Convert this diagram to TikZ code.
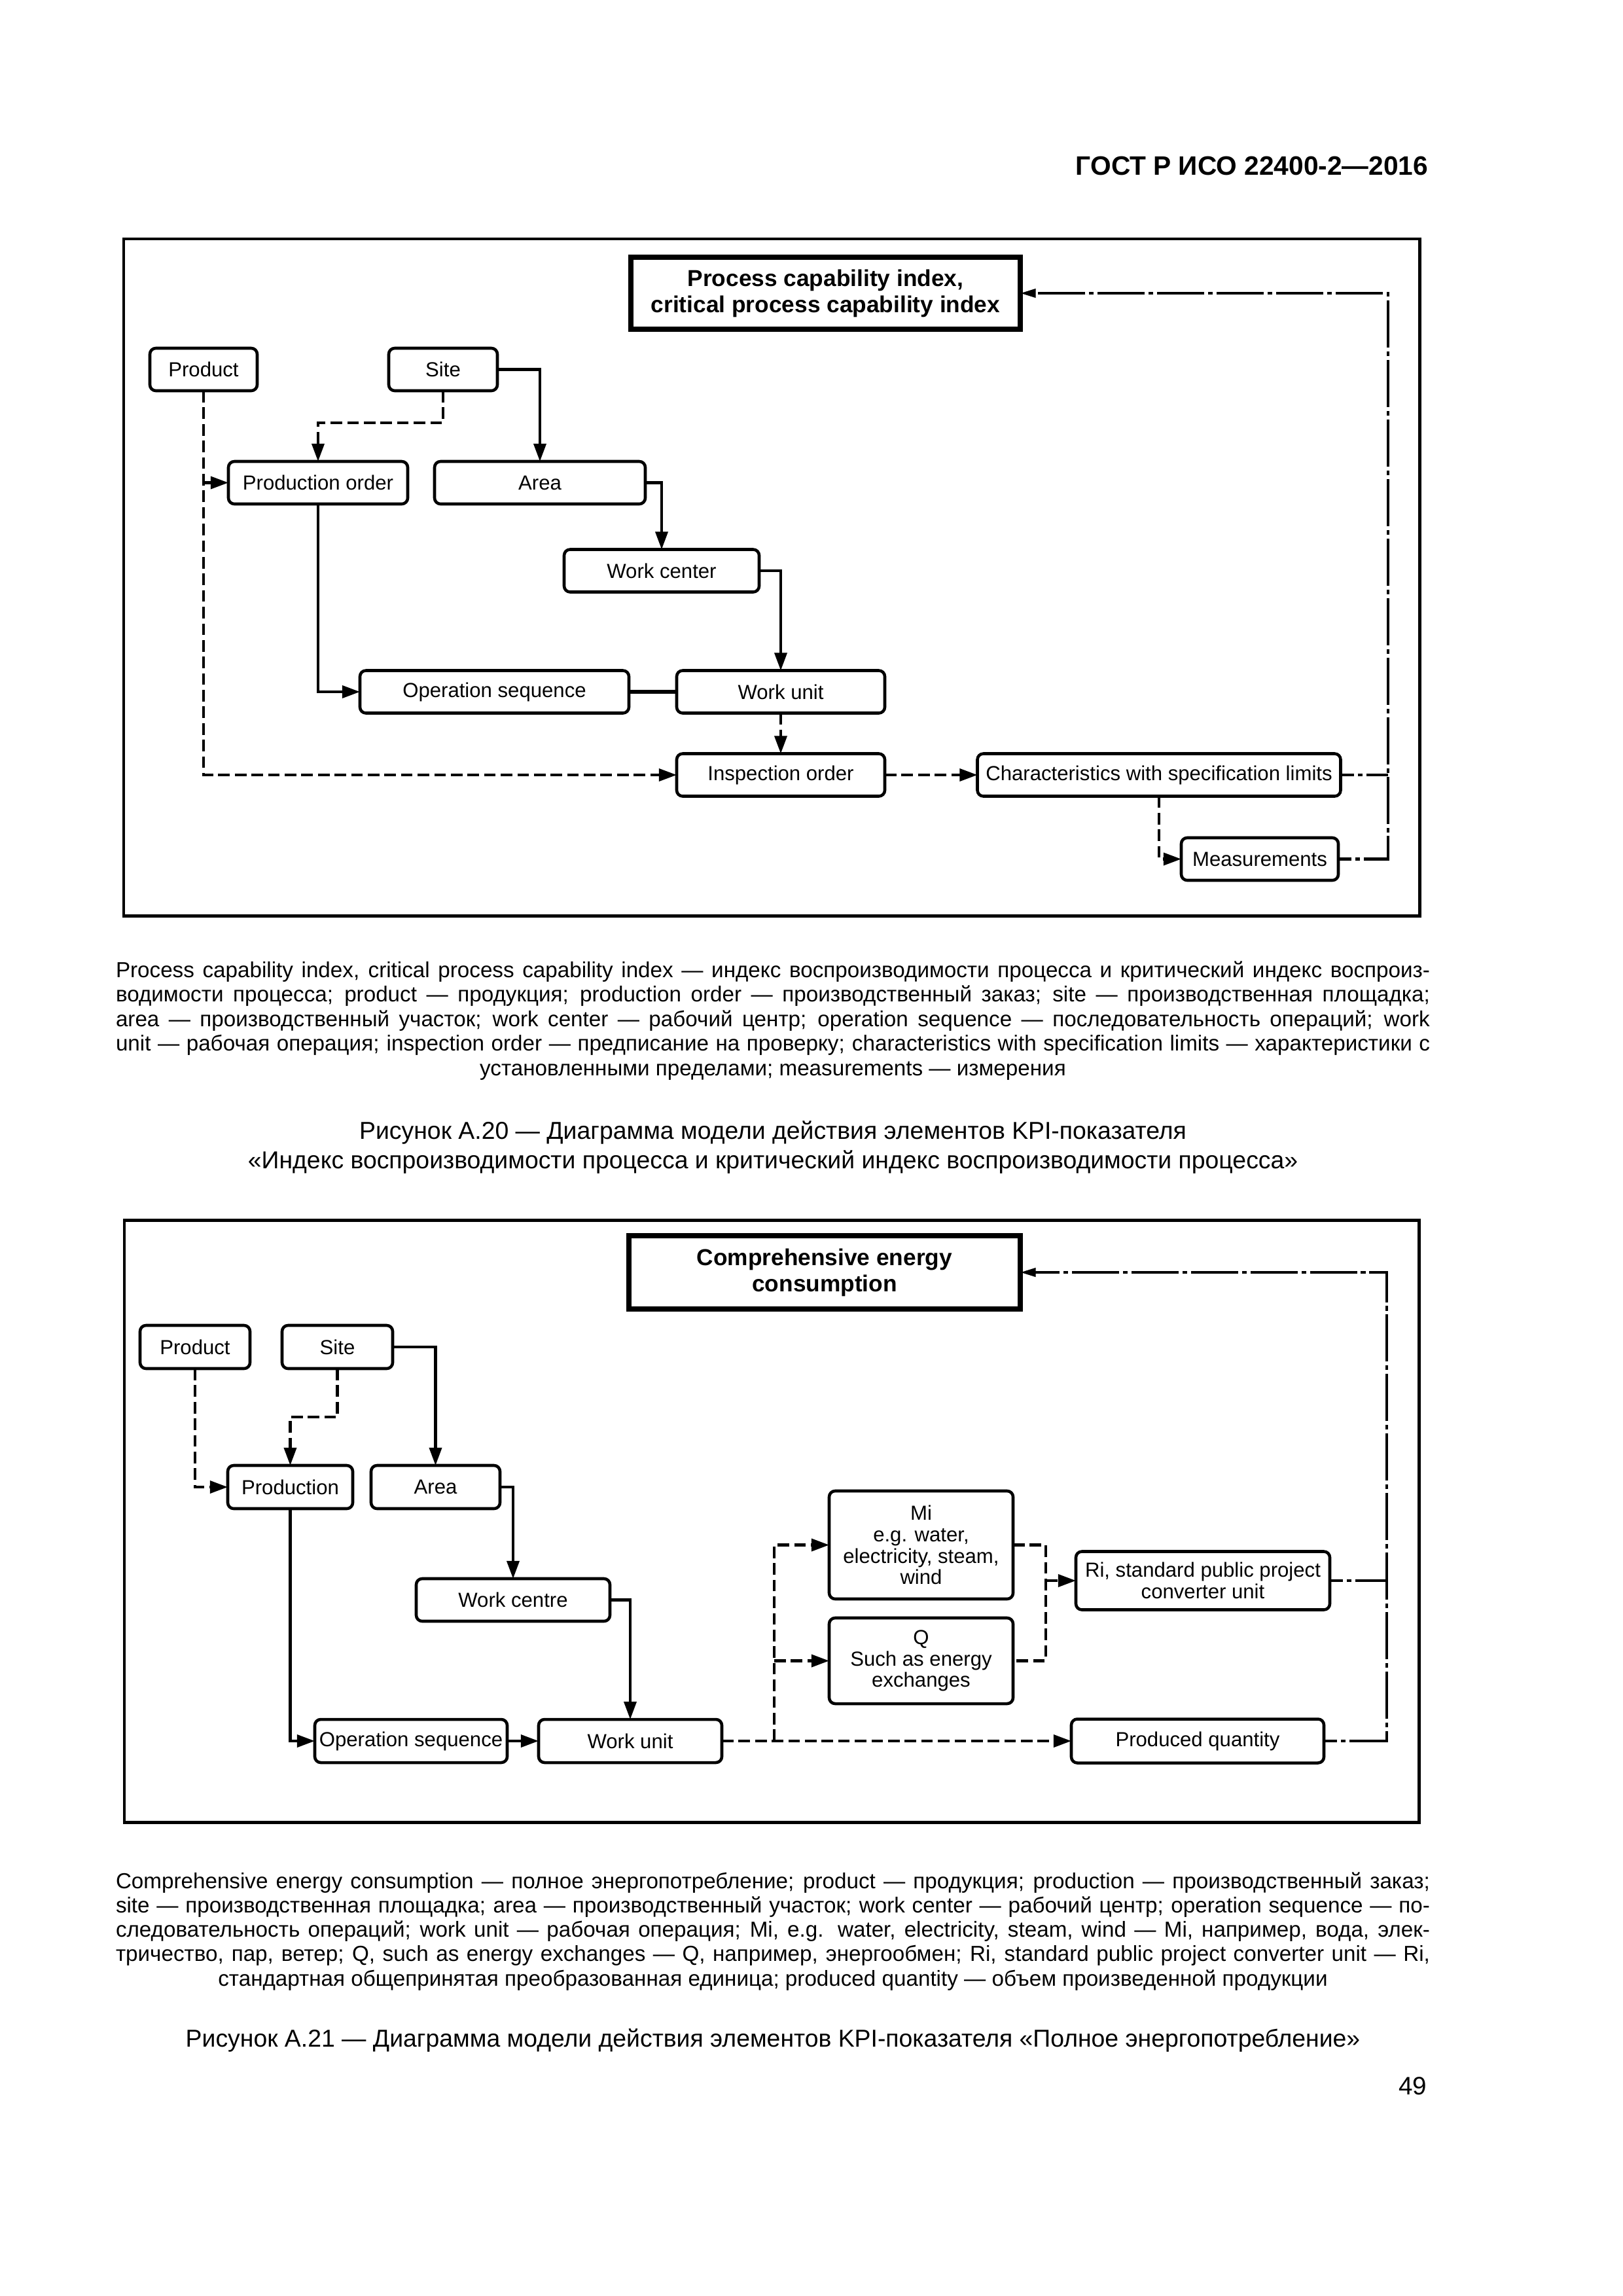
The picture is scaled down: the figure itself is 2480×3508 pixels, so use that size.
\documentclass[tikz,border=0pt]{standalone}
\usepackage{fontspec}
\setmainfont{Liberation Sans}
\usepackage{tikz}
\usetikzlibrary{arrows.meta}
\newdimen\pxunit
\pxunit=0.084677mm

\begin{document}
\begin{tikzpicture}[x=\pxunit, y=-\pxunit,
    every node/.style={inner sep=0pt, outer sep=0pt},
    box/.style={draw, line width=1.1pt, rounded corners=2.2pt, minimum height=65\pxunit, align=center, font=\fontsize{7.5}{7.9}\selectfont},
    head/.style={draw, line width=1.9pt, align=center, font=\bfseries\fontsize{8.5}{9.6}\selectfont},
    link/.style={line width=1pt},
    dsh/.style={line width=1pt, dash pattern=on 1.5mm off 0.65mm},
    ddot/.style={line width=1pt, dash pattern=on 6.1mm off 0.5mm on 0.6mm off 0.5mm, dash phase=4.4mm},
    arw/.style={-{Triangle[length=2.3mm,width=1.6mm]}},
    arws/.style={-{Triangle[length=2mm,width=1.1mm]}},
    outline/.style={line width=1.2pt},
    leg/.style={anchor=base, font=\fontsize{8}{9}\selectfont},
    capt/.style={anchor=base, font=\fontsize{9}{10.8}\selectfont}]
    \useasboundingbox (0,0) rectangle (2480,3508);

    \node[anchor=base east, font=\bfseries\fontsize{9.8}{12}\selectfont] (gost) at (2182,267) {ГОСТ Р ИСО 22400-2—2016};

    % Figure A.20
    \draw[outline] (189,365) rectangle (2169,1399);
    \node[head, minimum width=595\pxunit, minimum height=110\pxunit] (title1) at (1261.5,448) {Process capability index,\\critical process capability index};
    \node[box, minimum width=164\pxunit] (product1) at (311,564.5) {Product};
    \node[box, minimum width=166\pxunit] (site1) at (677,564.5) {Site};
    \node[box, minimum width=274\pxunit] (prodorder1) at (486,737.5) {Production order};
    \node[box, minimum width=322\pxunit] (area1) at (825,737.5) {Area};
    \node[box, minimum width=298\pxunit] (wc1) at (1011,872) {Work center};
    \node[box, minimum width=411\pxunit] (opseq1) at (755.5,1057) {Operation sequence};
    \node[box, minimum width=318\pxunit] (wu1) at (1193,1057) {Work unit};
    \node[box, minimum width=318\pxunit] (insp1) at (1193,1184) {Inspection order};
    \node[box, minimum width=555\pxunit] (char1) at (1771,1184) {Characteristics with specification limits};
    \node[box, minimum width=240\pxunit] (meas1) at (1925,1312.5) {Measurements};

    \draw[dsh, arw] (product1.south) |- (insp1.west);
    \draw[dsh, arw] (product1.south |- prodorder1.west) -- (prodorder1.west);
    \draw[dsh, arw] (site1.south) -- ++(0,49) -| (prodorder1.north);
    \draw[link, arw] (site1.east) -| (area1.north);
    \draw[link, arw] (area1.east) -| (wc1.north);
    \draw[link, arw] (wc1.east) -| (wu1.north);
    \draw[link, arw] (prodorder1.south) |- (opseq1.west);
    \draw[link, line width=1.6pt] (opseq1.east) -- (wu1.west);
    \draw[dsh, arw] (wu1.south) -- (insp1.north);
    \draw[dsh, arw] (insp1.east) -- (char1.west);
    \draw[dsh, arw] (char1.south) |- (meas1.west);
    \coordinate (back1) at (2121,448);
    \draw[ddot] (char1.east) -- (char1.east -| back1);
    \draw[ddot, arws] (meas1.east) -| (back1) -- (title1.east);

    \foreach \ln [count=\i] in {%
{Process capability index, critical process capability index — индекс воспроизводимости процесса и критический индекс воспроиз-},%
{водимости процесса; product — продукция; production order — производственный заказ; site — производственная площадка;},%
{area — производственный участок; work center — рабочий центр; operation sequence — последовательность операций; work},%
{unit — рабочая операция; inspection order — предписание на проверку; characteristics with specification limits — характеристики с}}
        \node[leg] (legA\i) at (1181,{1493+37.5*(\i-1)}) {\hbox to 2008\pxunit{\ln}};
    \node[leg] (legA5) at (1181,1643) {установленными пределами; measurements — измерения};
    \node[capt] (figA1) at (1181,1740) {Рисунок А.20 — Диаграмма модели действия элементов KPI-показателя};
    \node[capt] (figA2) at (1181,1785) {«Индекс воспроизводимости процесса и критический индекс воспроизводимости процесса»};

    % Figure A.21
    \draw[outline] (190,1864) rectangle (2168,2784);
    \node[head, minimum width=598\pxunit, minimum height=112\pxunit] (title2) at (1260,1944) {Comprehensive energy\\consumption};
    \node[box, minimum width=168\pxunit, minimum height=66\pxunit] (product2) at (298,2058) {Product};
    \node[box, minimum width=169\pxunit, minimum height=66\pxunit] (site2) at (515.5,2058) {Site};
    \node[box, minimum width=191\pxunit, minimum height=66\pxunit] (production2) at (443.5,2272) {Production};
    \node[box, minimum width=197\pxunit, minimum height=66\pxunit] (area2) at (665.5,2272) {Area};
    \node[box, minimum width=296\pxunit] (wc2) at (784,2444.5) {Work centre};
    \node[box, minimum width=294\pxunit, minimum height=66\pxunit] (opseq2) at (628,2660) {Operation sequence};
    \node[box, minimum width=280\pxunit, minimum height=66\pxunit] (wu2) at (963,2660) {Work unit};
    \node[box, minimum width=281\pxunit, minimum height=165\pxunit] (mi2) at (1407.5,2360.5) {Mi\\e.g. water,\\electricity, steam,\\wind};
    \node[box, minimum width=281\pxunit, minimum height=131\pxunit] (q2) at (1407.5,2537.5) {Q\\Such as energy\\exchanges};
    \node[box, minimum width=388\pxunit, minimum height=89\pxunit] (ri2) at (1838,2415) {Ri, standard public project\\converter unit};
    \node[box, minimum width=386\pxunit, minimum height=67\pxunit] (pq2) at (1830,2660) {Produced quantity};

    \draw[dsh, arw] (product2.south) |- (production2.west);
    \draw[dsh, arw] (site2.south) -- ++(0,74) -| (production2.north);
    \draw[link, arw] (site2.east) -| (area2.north);
    \draw[link, arw] (area2.east) -| (wc2.north);
    \draw[link, arw] (wc2.east) -| (wu2.north);
    \draw[link, arw] (production2.south) |- (opseq2.west);
    \draw[link, arw] (opseq2.east) -- (wu2.west);
    \draw[dsh, arw] (wu2.east) -- (pq2.west);
    \coordinate (fork2) at (1183,2660);
    \draw[dsh, arw] (fork2) |- (mi2.west);
    \draw[dsh, arw] (fork2 |- q2.west) -- (q2.west);
    \coordinate (join2) at (1598,2415);
    \draw[dsh] (mi2.east) -| (join2) |- (q2.east);
    \draw[dsh, arw] (join2) -- (ri2.west);
    \coordinate (back2) at (2119,1944);
    \draw[ddot] (ri2.east) -- (ri2.east -| back2);
    \draw[ddot, arws] (pq2.east) -| (back2) -- (title2.east);

    \foreach \ln [count=\i] in {%
{Comprehensive energy consumption — полное энергопотребление; product — продукция; production — производственный заказ;},%
{site — производственная площадка; area — производственный участок; work center — рабочий центр; operation sequence — по-},%
{следовательность операций; work unit — рабочая операция; Mi, e.g. water, electricity, steam, wind — Mi, например, вода, элек-},%
{тричество, пар, ветер; Q, such as energy exchanges — Q, например, энергообмен; Ri, standard public project converter unit — Ri,}}
        \node[leg] (legB\i) at (1181,{2885+37.2*(\i-1)}) {\hbox to 2008\pxunit{\ln}};
    \node[leg] (legB5) at (1181,3034) {стандартная общепринятая преобразованная единица; produced quantity — объем произведенной продукции};
    \node[capt] (figB1) at (1181,3127) {Рисунок А.21 — Диаграмма модели действия элементов KPI-показателя «Полное энергопотребление»};

    \node[anchor=base east, font=\fontsize{9.3}{11}\selectfont] (pageno) at (2180,3200) {49};
\end{tikzpicture}
\end{document}
